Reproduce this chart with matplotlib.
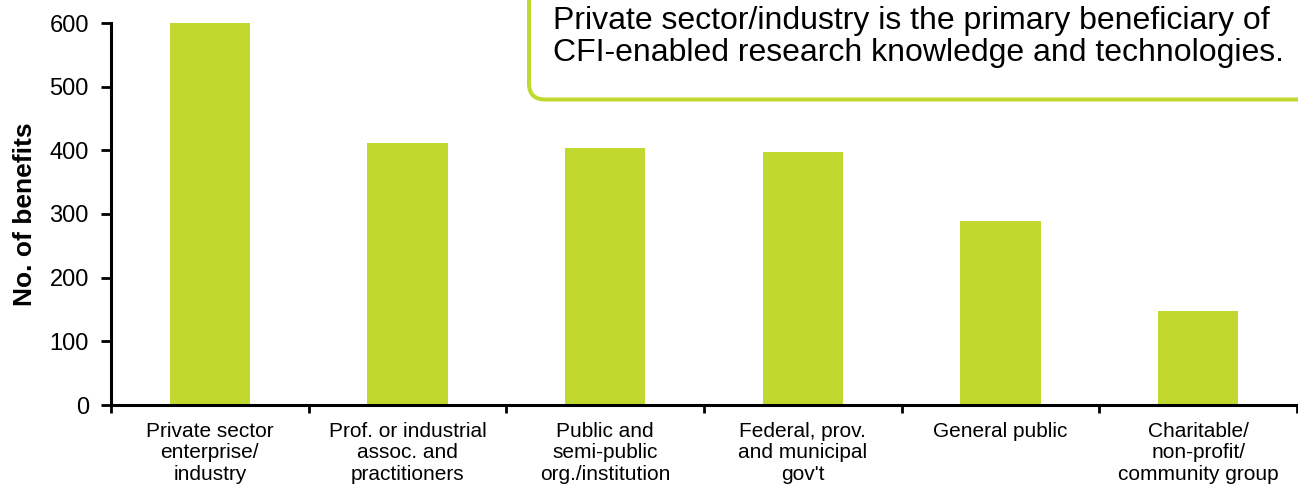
import matplotlib
matplotlib.use("Agg")
import matplotlib.pyplot as plt
from matplotlib.patches import FancyBboxPatch
from matplotlib.transforms import IdentityTransform

categories = [
    "Private sector\nenterprise/\nindustry",
    "Prof. or industrial\nassoc. and\npractitioners",
    "Public and\nsemi-public\norg./institution",
    "Federal, prov.\nand municipal\ngov't",
    "General public",
    "Charitable/\nnon-profit/\ncommunity group",
]
benefits = [600, 412, 403, 398, 289, 148]
y_ticks = [0, 100, 200, 300, 400, 500, 600]

bar_color = "#C1D82F"
font = ["Liberation Sans", "DejaVu Sans"]
plt.rcParams["font.family"] = font

W, H, DPI = 1298, 491, 100
fig = plt.figure(figsize=(W / DPI, H / DPI), dpi=DPI)
ax = fig.add_axes([111 / W, 1 - 405 / H, (1297 - 111) / W, (405 - 23) / H])

x = list(range(len(categories)))
ax.bar(x, benefits, width=0.405, color=bar_color, zorder=2)

ax.set_xlim(-0.5, len(categories) - 0.5)
ax.set_ylim(0, 600)
ax.set_yticks(y_ticks)
ax.set_yticklabels([str(v) for v in y_ticks], fontsize=17)

# category boundaries carry the ticks, labels sit centred under each bar
ax.set_xticks([i - 0.5 for i in range(len(categories) + 1)])
ax.set_xticklabels([])
ax.set_xticks(x, minor=True)
ax.set_xticklabels(categories, minor=True, fontsize=15, linespacing=1.17)
ax.tick_params(axis="x", which="minor", length=0, pad=12)
ax.tick_params(axis="x", which="major", direction="out", length=6, width=2)
ax.tick_params(axis="y", direction="out", length=7, width=2, pad=9)

for side in ("top", "right"):
    ax.spines[side].set_visible(False)
for side in ("left", "bottom"):
    ax.spines[side].set_linewidth(2.2)
    ax.spines[side].set_capstyle("projecting")

ax.set_ylabel("No. of benefits", fontsize=19, fontweight="bold", labelpad=9)

# callout box with a rounded lower-left corner, running off the top and right edges
box = FancyBboxPatch(
    (529, H - 99.5), 900, 200,
    boxstyle="round,pad=0,rounding_size=16",
    transform=IdentityTransform(),
    facecolor="white", edgecolor=bar_color, linewidth=2.9, zorder=5,
)
fig.patches.append(box)
fig.text(
    553 / W, 1 - 37 / H,
    "Private sector/industry is the primary beneficiary of\n"
    "CFI-enabled research knowledge and technologies.",
    fontsize=23, ha="left", va="center", linespacing=1.06, zorder=6,
)

fig.savefig("out.png", dpi=DPI)
